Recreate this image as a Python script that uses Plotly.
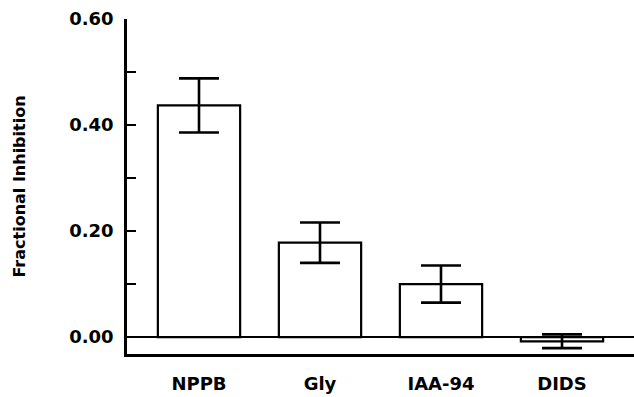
import plotly.graph_objects as go

categories = ["NPPB", "Gly", "IAA-94", "DIDS"]
values = [0.437, 0.178, 0.100, -0.008]
errors = [0.051, 0.038, 0.035, 0.013]
ytick_vals = [0.0, 0.2, 0.4, 0.6]
ytick_text = ["0.00", "0.20", "0.40", "0.60"]

font_main = dict(family="DejaVu Sans", size=18, color="black", weight="bold")

fig = go.Figure(
    go.Bar(
        x=categories,
        y=values,
        marker=dict(color="white", line=dict(color="black", width=2.2)),
        error_y=dict(type="data", array=errors, visible=True,
                     color="black", thickness=2.6, width=20),
        width=0.68,
    )
)

fig.update_layout(
    width=634, height=397,
    margin=dict(l=127, r=0, t=19, b=43),
    paper_bgcolor="white", plot_bgcolor="white",
    showlegend=False,
    font=font_main,
)

fig.update_xaxes(
    range=[-0.595, 3.595], automargin=False,
    showline=True, linecolor="black", linewidth=2.5,
    showgrid=False, ticks="", zeroline=False,
    tickfont=font_main, ticklabelstandoff=12,
)

fig.update_yaxes(
    range=[-0.032, 0.6], automargin=False,
    tickvals=ytick_vals, ticktext=ytick_text,
    showline=True, linecolor="black", linewidth=2.5,
    showgrid=False,
    ticks="inside", ticklen=9, tickwidth=2, tickcolor="black",
    minor=dict(dtick=0.1, ticks="inside", ticklen=9, tickwidth=2, tickcolor="black", showgrid=False),
    zeroline=True, zerolinecolor="black", zerolinewidth=2.2,
    tickfont=font_main, ticklabelstandoff=7,
    title=dict(text="Fractional Inhibition", font=dict(family="DejaVu Sans", size=16, color="black", weight="bold"), standoff=40),
)

fig.write_html("out.html", config={"displayModeBar": False},
               post_script="document.body.style.margin='0px';document.body.style.overflow='hidden';")
